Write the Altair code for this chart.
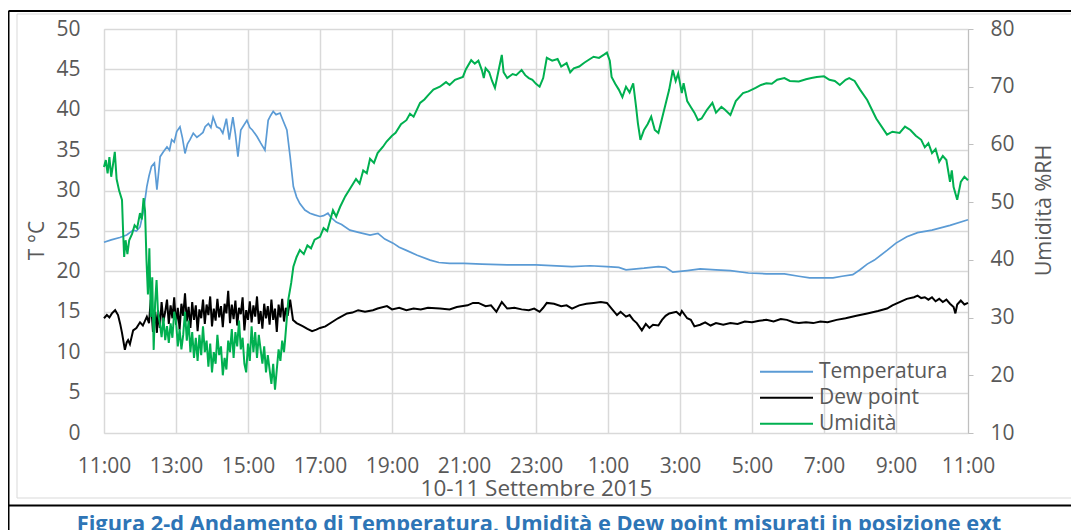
import altair as alt
import pandas as pd

# ---------------- data (hours after 11:00 of 10 Sept) ----------------
temp_t = [0, 0.2, 0.44, 0.63, 0.81, 0.9, 1.0, 1.05, 1.1, 1.19, 1.25, 1.32, 1.4, 1.47, 1.56, 1.65, 1.75, 1.82,
          1.88, 1.95, 2.02, 2.11, 2.18, 2.25, 2.32, 2.39, 2.48, 2.58, 2.67, 2.75, 2.81, 2.9, 2.97, 3.03, 3.13,
          3.22, 3.3, 3.4, 3.48, 3.58, 3.65, 3.72, 3.8, 3.97, 4.05, 4.12, 4.25, 4.35, 4.47, 4.56, 4.63, 4.7,
          4.78, 4.89, 4.97, 5.08, 5.17, 5.26, 5.35, 5.44, 5.58, 5.72, 5.85, 6.0, 6.1, 6.22, 6.3, 6.45, 6.6,
          6.83, 7.1, 7.39, 7.61, 7.8, 8.03, 8.2, 8.4, 8.7, 9.06, 9.3, 9.6, 10.0, 10.5, 11.2, 12.0, 13.0, 13.5,
          13.97, 14.3, 14.5, 15.0, 15.4, 15.6, 15.8, 16.2, 16.56, 17.0, 17.4, 17.9, 18.4, 18.9, 19.3, 19.6,
          20.0, 20.25, 20.5, 20.8, 21.0, 21.2, 21.4, 21.75, 22.0, 22.3, 22.6, 23.0, 23.5, 24.0]
temp_v = [23.6, 23.9, 24.2, 24.5, 25.1, 25.0, 25.5, 26.5, 27.6, 30.5, 31.8, 33.0, 33.4, 30.1, 34.2, 34.8, 35.4, 35.0,
          36.3, 36.0, 37.3, 37.9, 36.5, 34.6, 35.8, 36.3, 37.1, 36.6, 36.9, 37.2, 37.9, 38.3, 37.8, 39.1, 37.9,
          37.7, 37.1, 38.9, 36.3, 39.1, 37.0, 34.2, 37.5, 38.7, 37.8, 37.5, 36.7, 35.9, 35.0, 38.7, 39.3, 39.8,
          39.4, 39.6, 38.7, 37.5, 34.2, 30.5, 29.2, 28.4, 27.6, 27.2, 27.0, 26.8, 26.9, 27.2, 26.7, 26.1, 25.8,
          25.1, 24.8, 24.5, 24.7, 24.0, 23.5, 23.0, 22.6, 22.0, 21.4, 21.1, 21.0, 21.0, 20.9, 20.8, 20.8, 20.6, 20.7,
          20.6, 20.5, 20.2, 20.4, 20.6, 20.5, 19.9, 20.1, 20.3, 20.2, 20.1, 19.8, 19.7, 19.7, 19.4, 19.2,
          19.2, 19.2, 19.4, 19.6, 20.2, 20.9, 21.4, 22.6, 23.5, 24.3, 24.8, 25.1, 25.7, 26.4]

dew_t = [0, 0.08, 0.15, 0.22, 0.31, 0.39, 0.45, 0.5, 0.58, 0.63, 0.67, 0.72, 0.81, 0.9, 1.0, 1.08, 1.19, 1.25,
         1.3, 1.36, 1.42, 1.47,
         1.50, 1.55, 1.60, 1.65, 1.70, 1.75, 1.80, 1.85, 1.90, 1.95, 2.00, 2.05, 2.10, 2.15, 2.20, 2.25, 2.30,
         2.35, 2.40, 2.45, 2.50, 2.55, 2.60, 2.65, 2.70, 2.75, 2.80, 2.85, 2.90, 2.95, 3.00, 3.05, 3.10, 3.15,
         3.20, 3.25, 3.30, 3.35, 3.40, 3.45, 3.50, 3.55, 3.60, 3.65, 3.70, 3.75, 3.80, 3.85, 3.90, 3.95, 4.00,
         4.05, 4.10, 4.15, 4.20, 4.25, 4.30, 4.35, 4.40, 4.45, 4.50, 4.55, 4.60, 4.65, 4.70, 4.75, 4.80, 4.85,
         4.90, 4.95, 5.00, 5.05, 5.10,
         5.17, 5.25, 5.35, 5.53, 5.65, 5.78, 5.9, 6.0, 6.15, 6.36, 6.5, 6.75, 6.9, 7.06, 7.25, 7.47, 7.6, 7.86,
         8.0, 8.2, 8.4, 8.6, 8.8, 9.0, 9.33, 9.6, 9.8, 10.1, 10.25, 10.4, 10.6, 10.75, 10.9, 11.05, 11.2, 11.4,
         11.6, 11.8, 11.95, 12.1, 12.2, 12.3, 12.5, 12.7, 12.85, 13.0, 13.2, 13.4, 13.6, 13.8, 13.97, 14.1,
         14.25, 14.35, 14.5, 14.6, 14.7, 14.8, 14.94, 15.05, 15.15, 15.25, 15.4, 15.5, 15.6, 15.7, 15.9, 16.0,
         16.05, 16.2, 16.3, 16.4, 16.56, 16.7, 16.85, 17.0, 17.2, 17.4, 17.6, 17.8, 18.0, 18.2, 18.4, 18.6,
         18.8, 18.97, 19.15, 19.3, 19.5, 19.7, 19.9, 20.1, 20.35, 20.6, 20.9, 21.2, 21.5, 21.75, 21.9, 22.1,
         22.3, 22.5, 22.6, 22.7, 22.8, 22.9, 23.0, 23.1, 23.2, 23.3, 23.4, 23.5, 23.6, 23.65, 23.7, 23.8,
         23.9, 24.0]
dew_v = [14.2, 14.6, 14.3, 14.8, 15.2, 14.6, 13.5, 12.4, 10.3, 11.2, 11.5, 11.0, 12.7, 13.0, 13.7, 13.3, 14.4, 13.6,
         16.5, 12.5, 15.0, 12.4,
         15.2, 13.0, 16.2, 13.8, 15.0, 16.5, 13.5, 15.8, 14.2, 16.8, 13.4, 15.5, 12.8, 16.0, 14.5, 17.3, 13.8,
         15.6, 13.0, 16.2, 14.0, 15.8, 12.6, 15.3, 14.2, 16.5, 13.5, 15.9, 14.6, 16.9, 13.2, 15.4, 13.9, 16.6,
         14.3, 15.7, 13.1, 16.0, 14.8, 17.6, 13.6, 15.9, 14.1, 16.4, 13.3, 15.5, 14.7, 16.8, 12.7, 15.2, 14.0,
         16.3, 13.7, 15.8, 14.4, 16.9, 13.5, 15.1, 12.9, 16.0, 14.2, 15.7, 13.4, 16.5, 14.0, 15.4, 12.5, 15.9,
         14.3, 16.6, 13.8, 15.5, 14.5,
         16.5, 14.0, 13.6, 13.2, 12.9, 12.6, 12.8, 13.0, 13.2, 13.8, 14.2, 14.8, 14.9, 15.2, 15.0, 15.2, 15.4, 15.7,
         15.3, 15.5, 15.2, 15.4, 15.3, 15.5, 15.4, 15.3, 15.6, 15.8, 16.1, 16.1, 15.7, 15.8, 15.0, 16.2, 15.4, 15.5,
         15.3, 15.2, 15.4, 15.0, 15.5, 16.1, 16.0, 15.7, 15.8, 15.4, 15.8, 16.0, 16.1, 16.2, 16.1, 15.4,
         14.6, 15.0, 14.4, 14.6, 14.0, 13.6, 12.7, 13.5, 13.0, 13.4, 13.3, 14.0, 14.5, 14.8, 15.0, 14.6,
         15.1, 14.2, 14.0, 13.2, 13.4, 13.7, 13.3, 13.6, 13.4, 13.6, 13.5, 13.8, 13.7, 13.9, 14.0, 13.8,
         14.1, 14.0, 13.7, 13.6, 13.7, 13.6, 13.8, 13.7, 14.0, 14.2, 14.5, 14.8, 15.1, 15.4, 15.8, 16.2,
         16.6, 16.8, 17.0, 16.7, 16.8, 16.5, 16.8, 16.3, 16.6, 16.2, 16.5, 16.0, 15.6, 14.8, 15.9, 16.4,
         15.9, 16.1]

hum_t = [0, 0.05, 0.1, 0.15, 0.2, 0.25, 0.3, 0.35, 0.42, 0.5, 0.53, 0.56, 0.6, 0.65, 0.7, 0.78, 0.85, 0.92, 1.0,
         1.05, 1.1, 1.14, 1.18, 1.22, 1.26, 1.3, 1.34, 1.38, 1.42, 1.46, 1.5, 1.55, 1.6, 1.65, 1.7, 1.75, 1.8,
         1.85, 1.9, 1.95,
         2.00, 2.05, 2.10, 2.15, 2.20, 2.25, 2.30, 2.35, 2.40, 2.45, 2.50, 2.55, 2.60, 2.65, 2.70, 2.75, 2.80,
         2.85, 2.90, 2.95, 3.00, 3.05, 3.10, 3.15, 3.20, 3.25, 3.30, 3.35, 3.40, 3.45, 3.50, 3.55, 3.60, 3.65,
         3.70, 3.75, 3.80, 3.85, 3.90, 3.95, 4.00, 4.05, 4.10, 4.15, 4.20, 4.25, 4.30, 4.35, 4.40, 4.45, 4.50,
         4.55, 4.60, 4.65, 4.70, 4.75, 4.80, 4.85, 4.90, 4.95, 5.00,
         5.03, 5.12, 5.2, 5.26, 5.35, 5.44, 5.55, 5.65, 5.75, 5.85, 6.0, 6.1, 6.2, 6.36, 6.45, 6.56, 6.7, 6.85,
         7.0, 7.1, 7.2, 7.3, 7.39, 7.5, 7.6, 7.75, 7.85, 8.0, 8.1, 8.25, 8.4, 8.5, 8.6, 8.78, 8.9, 9.0, 9.15,
         9.33, 9.5, 9.6, 9.75, 9.97, 10.05, 10.2, 10.3, 10.4, 10.5, 10.55, 10.6, 10.7, 10.78, 10.86, 10.95,
         11.05, 11.1, 11.2, 11.35, 11.45, 11.6, 11.7, 11.8, 11.9, 12.0, 12.1, 12.2, 12.3, 12.45, 12.6, 12.7,
         12.85, 12.95, 13.05, 13.2, 13.35, 13.5, 13.6, 13.75, 13.9, 13.97, 14.05, 14.1, 14.2, 14.3, 14.4, 14.5,
         14.6, 14.7, 14.78, 14.83, 14.9, 15.0, 15.1, 15.2, 15.3, 15.4, 15.5, 15.6, 15.7, 15.8, 15.88, 15.95,
         16.05, 16.1, 16.2, 16.3, 16.4, 16.5, 16.6, 16.75, 16.9, 17.0, 17.15, 17.25, 17.4, 17.55, 17.75, 17.9,
         18.1, 18.25, 18.4, 18.55, 18.7, 18.9, 19.05, 19.3, 19.5, 19.65, 19.8, 20.0, 20.15, 20.3, 20.44, 20.6,
         20.7, 20.85, 21.0, 21.2, 21.45, 21.75, 21.9, 22.1, 22.25, 22.4, 22.55, 22.7, 22.8, 22.9, 23.0, 23.1,
         23.2, 23.3, 23.4, 23.5, 23.55, 23.6, 23.7, 23.8, 23.9, 24.0]
hum_v = [56.1, 57.3, 55.0, 57.8, 54.4, 56.5, 58.7, 54.0, 52.0, 50.4, 45.0, 40.5, 43.4, 41.0, 43.4, 44.5, 46.0, 45.5,
         48.1, 47.0, 50.7, 48.5, 40.0, 34.0, 42.0, 30.1, 37.0, 24.4, 32.5, 36.5, 30.8, 29.1, 26.6, 30.0, 26.1,
         28.5, 25.6, 29.0, 26.5, 31.0,
         29.5, 25.0, 28.0, 24.5, 27.0, 31.0, 26.0, 29.5, 24.0, 27.5, 23.0, 26.5, 22.5, 27.0, 23.5, 28.5, 24.0,
         26.0, 21.5, 25.5, 20.5, 24.0, 22.0, 27.0, 23.5, 25.0, 20.0, 23.0, 21.0, 26.0, 24.0, 28.0, 23.0, 27.5,
         25.0, 29.5, 24.5, 26.5, 22.0, 20.5, 25.5, 22.5, 28.5, 24.0, 27.5, 23.0, 27.0, 24.5, 22.0, 25.0, 20.5,
         23.5, 21.0, 18.5, 22.0, 17.5, 21.0, 24.5, 22.5, 26.0, 24.0,
         26.1, 33.1, 36.0, 38.8, 40.5, 41.7, 41.0, 42.5, 42.0, 43.5, 44.0, 45.5, 45.0, 48.6, 47.5, 49.2, 51.0, 52.5,
         54.0, 53.2, 55.5, 55.0, 57.5, 56.8, 58.5, 59.6, 60.5, 61.5, 62.0, 63.5, 64.2, 65.3, 64.8, 67.2, 67.8,
         68.5, 69.5, 70.0, 70.8, 70.3, 71.2, 71.7, 73.0, 74.6, 74.0, 74.5, 72.8, 71.5, 73.2, 72.5, 71.0, 69.8,
         72.5, 75.5, 72.5, 71.5, 72.2, 72.0, 72.9, 72.0, 71.5, 71.2, 70.5, 70.0, 71.5, 75.0, 74.5, 74.8, 73.5,
         74.1, 72.5, 73.2, 73.5, 74.2, 74.8, 75.2, 75.0, 75.6, 75.9, 74.5, 71.7, 70.5, 69.5, 68.2, 70.0, 69.0,
         70.6, 66.5, 63.7, 60.8, 62.5, 63.5, 64.8, 62.5, 62.0, 64.5, 67.0, 69.5, 72.9, 71.0, 72.3, 68.9, 70.6,
         67.5, 66.5, 65.5, 64.2, 64.5, 66.0, 67.2, 65.5, 66.5, 66.0, 65.1, 67.5, 68.9, 69.2, 69.8, 70.3, 70.6,
         70.5, 71.2, 71.5, 71.0, 70.9, 71.3, 71.5, 71.7, 71.8, 71.2, 71.0, 70.3, 71.2, 71.5, 71.0, 69.5, 67.7,
         64.5, 61.7, 62.2, 62.0, 63.1, 62.5, 61.5, 60.8, 59.5, 60.2, 58.5, 59.2, 57.0, 58.0, 57.3, 53.5, 55.5,
         52.6, 50.4, 53.5, 54.4, 53.8]

x_tick_values = [0, 2, 4, 6, 8, 10, 12, 14, 16, 18, 20, 22, 24]
x_tick_labels = ["11:00", "13:00", "15:00", "17:00", "19:00", "21:00", "23:00",
                 "1:00", "3:00", "5:00", "7:00", "9:00", "11:00"]
left_ticks = [0, 5, 10, 15, 20, 25, 30, 35, 40, 45, 50]
right_ticks = [10, 20, 30, 40, 50, 60, 70, 80]
series_names = ["Temperatura", "Dew point", "Umidità"]
series_colors = ["#5B9BD5", "#000000", "#00B050"]
x_title = "10-11 Settembre 2015"
left_title = "T °C"
right_title = "Umidità %RH"
caption = "Figura 2-d Andamento di Temperatura, Umidità e Dew point misurati in posizione ext"

FONT = "Open Sans"
GREY = "#595959"
FS = 21

df_temp = pd.DataFrame({"t": temp_t, "v": temp_v, "s": series_names[0]})
df_dew = pd.DataFrame({"t": dew_t, "v": dew_v, "s": series_names[1]})
df_hum = pd.DataFrame({"t": hum_t, "v": hum_v, "s": series_names[2]})
one = pd.DataFrame({"k": [0]})

label_expr = "[" + ",".join("'" + s + "'" for s in x_tick_labels) + "][round(datum.value/2)]"

x_enc = alt.X("t:Q", scale=alt.Scale(domain=[0, 24], nice=False, zero=False),
              axis=alt.Axis(values=x_tick_values, labelExpr=label_expr, grid=True, gridColor="#D9D9D9",
                            gridWidth=1.5, domain=False, ticks=False, labelFontSize=FS, labelColor=GREY,
                            labelFont=FONT, labelPadding=22, labelFlush=False, title=x_title,
                            titleFontSize=22.5, titleFont=FONT, titleFontWeight="normal", titleColor=GREY,
                            titleBaseline="alphabetic", titleY=62, titleX=432))

y_left = alt.Y("v:Q", scale=alt.Scale(domain=[0, 50], nice=False),
               axis=alt.Axis(orient="left", values=left_ticks, grid=True, gridColor="#D9D9D9", gridWidth=1.5,
                             domain=False, ticks=False, labelFontSize=FS, labelColor=GREY, labelFont=FONT,
                             labelPadding=24, title=left_title, titleFontSize=FS, titleFont=FONT,
                             titleFontWeight="normal", titleColor=GREY, titleAngle=270,
                             titleBaseline="middle", titleAlign="center", titleX=-67, titleY=211))

y_right = alt.Y("v:Q", scale=alt.Scale(domain=[10, 80], nice=False),
                axis=alt.Axis(orient="right", values=right_ticks, grid=False, domain=True,
                              domainColor="#BFBFBF", ticks=True, tickSize=5, tickColor="#BFBFBF",
                              labelFontSize=FS, labelColor=GREY, labelFont=FONT, labelPadding=17,
                              title=right_title, titleFontSize=21.5, titleFont=FONT,
                              titleFontWeight="normal", titleColor=GREY, titleAngle=270,
                              titleBaseline="middle", titleAlign="center", titleX=76, titleY=181))

color_enc = alt.Color("s:N", scale=alt.Scale(domain=series_names, range=series_colors),
                      sort=series_names,
                      legend=alt.Legend(title=None, orient="none", legendX=655, legendY=330, padding=0,
                                        symbolType="stroke", symbolSize=2809, symbolStrokeWidth=2,
                                        labelFontSize=FS, labelFont=FONT, labelColor=GREY, labelOffset=5,
                                        clipHeight=25.5, rowPadding=0))

temp_line = alt.Chart(df_temp).mark_line(strokeWidth=1.7).encode(x=x_enc, y=y_left, color=color_enc, order="t:Q")
dew_line = alt.Chart(df_dew).mark_line(strokeWidth=2).encode(x=x_enc, y=y_left, color=color_enc, order="t:Q")
hum_line = alt.Chart(df_hum).mark_line(strokeWidth=2).encode(x=x_enc, y=y_right, color=color_enc, order="t:Q")

left_layer = alt.layer(temp_line, dew_line)

# decorative frame (pixel offsets relative to plot area)
L, R, T, B = -95.5, 972, -18, 520
frame = alt.layer(
    alt.Chart(one).mark_rect(fill=None, stroke="#D9D9D9", strokeWidth=1).encode(
        x=alt.value(-87), x2=alt.value(968), y=alt.value(-15), y2=alt.value(469)),
    alt.Chart(one).mark_rule(color="black", strokeWidth=2).encode(x=alt.value(L), y=alt.value(T), y2=alt.value(B)),
    alt.Chart(one).mark_rule(color="black", strokeWidth=2).encode(x=alt.value(R), y=alt.value(T), y2=alt.value(B)),
    alt.Chart(one).mark_rule(color="black", strokeWidth=2).encode(x=alt.value(L), x2=alt.value(R), y=alt.value(T)),
    alt.Chart(one).mark_rule(color="black", strokeWidth=2).encode(x=alt.value(L), x2=alt.value(R), y=alt.value(476.5)),
    alt.Chart(one).mark_text(text=caption, font=FONT, fontSize=21.8, fontWeight="bold", color="#2E75B6",
                             align="center", baseline="alphabetic").encode(x=alt.value(435), y=alt.value(502)),
)

chart = alt.layer(frame, left_layer, hum_line).resolve_scale(y="independent").properties(
    width=864, height=404,
    autosize=alt.AutoSizeParams(type="none"),
    padding={"left": 96, "top": 21, "right": 103, "bottom": 101},
).configure_view(stroke=None).configure(background="white")

chart.save("out.html", embed_options={"renderer": "svg", "actions": False})
